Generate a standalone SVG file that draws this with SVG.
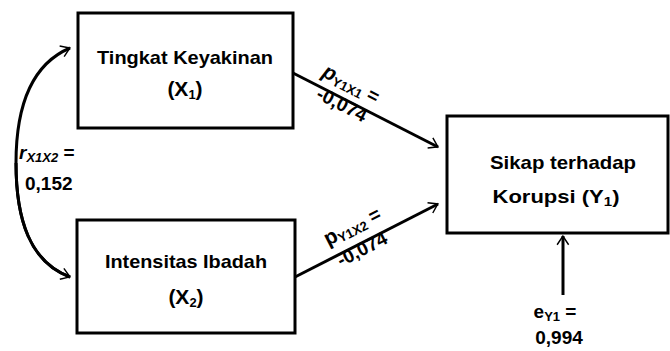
<svg xmlns="http://www.w3.org/2000/svg" width="670" height="351" viewBox="0 0 670 351">
<style>
.box{fill:#fff;stroke:#000;stroke-width:3}
.t{font-family:"Liberation Sans",Arial,sans-serif;font-weight:bold;font-size:19px;fill:#000;text-anchor:middle}
.l{font-family:"Liberation Sans",Arial,sans-serif;font-weight:bold;font-size:19px;fill:#000}
.s{font-size:13px}
.c{fill:none;stroke:#000;stroke-width:3}
</style>
<defs>
<marker id="ah" viewBox="0 0 10 10" refX="9" refY="5" markerWidth="6" markerHeight="6" markerUnits="userSpaceOnUse" orient="auto" style="overflow:visible">
<path d="M-9,-7 L9,5 L-9,17" fill="none" stroke="#000" stroke-width="3" transform="scale(0.8) translate(2,1)"/>
</marker>
</defs>
<rect width="670" height="351" fill="#fff"/>
<g id="connectors">
<path class="c" d="M293,73 L438,147" marker-end="url(#ah)"/>
<path class="c" d="M295,277 L438,204" marker-end="url(#ah)"/>
<path class="c" d="M563,295 L563,236" marker-end="url(#ah)"/>
<path class="c" d="M70,277 C30,262 16,220 16,163 C16,110 30,65 70,48" marker-end="url(#ah)"/>
<path class="c" d="M16,163 C16,220 30,262 70,277" marker-end="url(#ah)"/>
</g>
<g id="x1">
<rect class="box" x="78" y="13" width="215" height="115"/>
<text class="t" x="185" y="64" textLength="176" lengthAdjust="spacingAndGlyphs">Tingkat Keyakinan</text>
<text class="t" x="185" y="96" style="font-size:21px">(X<tspan class="s" dy="3">1</tspan><tspan dy="-3">)</tspan></text>
</g>
<g id="x2">
<rect class="box" x="77" y="220" width="218" height="113"/>
<text class="t" x="186" y="268" textLength="162" lengthAdjust="spacingAndGlyphs">Intensitas Ibadah</text>
<text class="t" x="186" y="304" style="font-size:21px">(X<tspan class="s" dy="3">2</tspan><tspan dy="-3">)</tspan></text>
</g>
<g id="y1">
<rect class="box" x="447" y="116" width="221" height="117"/>
<text class="t" x="563" y="169" textLength="146" lengthAdjust="spacingAndGlyphs">Sikap terhadap</text>
<text class="t" x="556" y="203" textLength="127" lengthAdjust="spacingAndGlyphs">Korupsi (Y<tspan class="s" dy="3">1</tspan><tspan dy="-3">)</tspan></text>
</g>
<g id="labels">
<text class="l" x="19" y="159"><tspan font-style="italic">r</tspan><tspan class="s" font-style="italic" dy="3">X1X2</tspan><tspan dy="-3"> =</tspan></text>
<text class="l" x="25" y="190">0,152</text>
<g transform="translate(321,76) rotate(27)">
<text class="l" x="0" y="0"><tspan font-size="21" font-style="italic">p</tspan><tspan class="s" dy="3">Y1X1</tspan><tspan dy="-3"> =</tspan></text>
</g>
<g transform="translate(315,98) rotate(27)">
<text class="l" x="0" y="0">-0,074</text>
</g>
<g transform="translate(328,246) rotate(-27)">
<text class="l" x="0" y="0"><tspan font-size="21">p</tspan><tspan class="s" dy="3">Y1X2</tspan><tspan dy="-3"> =</tspan></text>
</g>
<g transform="translate(341,267) rotate(-27)">
<text class="l" x="0" y="0">-0,074</text>
</g>
<text class="l" x="555" y="318" text-anchor="middle">e<tspan class="s" dy="3">Y1</tspan><tspan dy="-3"> =</tspan></text>
<text class="l" x="559" y="344" text-anchor="middle">0,994</text>
</g>
</svg>
